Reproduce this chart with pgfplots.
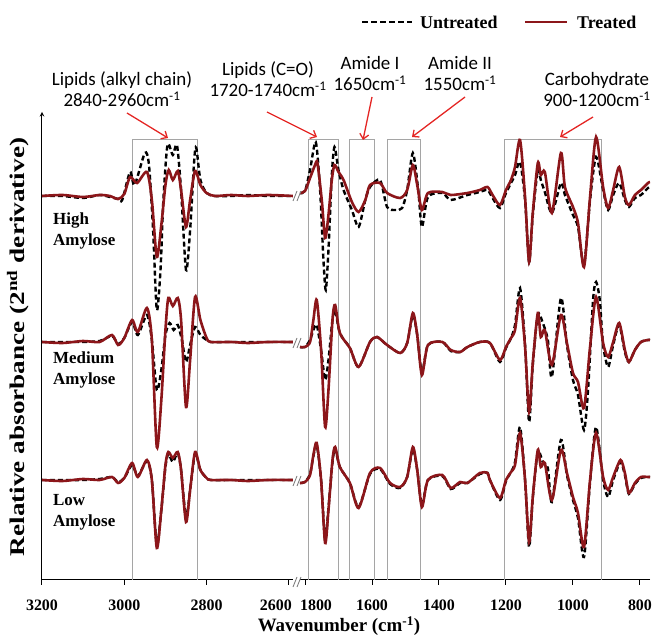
\documentclass[border=0pt]{standalone}
\usepackage{fontspec}
\setmainfont{Liberation Serif}
\newfontfamily\calib{Carlito}
\usepackage{pgfplots}
\pgfplotsset{compat=1.18}
\usetikzlibrary{arrows.meta}
\definecolor{treated}{RGB}{140,22,26}
\definecolor{boxgray}{RGB}{165,165,165}
\definecolor{arrowred}{RGB}{228,38,36}

\pgfplotsset{
  spec/.style={scale only axis, height=468bp, ymin=0, ymax=468, x dir=reverse,
    axis x line=bottom, axis line style={-, line width=1bp}, ytick=\empty,
    tick align=outside, major tick length=5bp, tick style={black, line width=1bp},
    xticklabel style={font=\fontsize{16}{16}\selectfont\bfseries, yshift=-11bp},
    /pgf/number format/1000 sep={}, /pgf/number format/assume math mode=true},
  untr/.style={black, line width=2.4bp, dash pattern=on 5bp off 3bp, smooth, tension=0.45, no markers},
  trt/.style={treated, line width=2.6bp, smooth, tension=0.45, no markers},
}

\begin{document}
\begin{tikzpicture}
\useasboundingbox (0,0) rectangle (654bp,639bp);

% left panel: C-H stretching region
\begin{axis}[spec, at={(42bp,59bp)}, anchor=south west, width=251bp,
  xmin=2590, xmax=3200, axis y line=left,
  xtick={2800,3000,3200}, extra x ticks={2600},
  extra x tick style={xticklabel style={xshift=-13bp}}]
\draw[boxgray, line width=0.9bp] (axis cs:2981,0) |- (axis cs:2823,441) -- (axis cs:2823,0);
% high amylose
\addplot[untr] coordinates {(3200,384)(3150,384)(3100,382)(3060,385)(3035,383)(3015,381)(3005,380)(2986,408)(2975,395)(2950,427)(2940,415)(2930,350)(2921,270)(2912,310)(2905,380)(2895,435)(2882,425)(2872,435)(2862,390)(2850,310)(2840,350)(2830,420)(2825,432)(2815,400)(2800,387)(2780,384)(2740,384)(2700,385)(2650,384)(2590,384)};
\addplot[trt] coordinates {(3200,384)(3150,385)(3100,383)(3060,385)(3035,384)(3015,381)(3000,386)(2986,403)(2969,397)(2945,408)(2933,380)(2921,323)(2910,355)(2900,395)(2892,410)(2882,400)(2870,409)(2862,390)(2850,353)(2840,380)(2828,409)(2815,395)(2800,387)(2780,384)(2740,385)(2700,384)(2650,385)(2590,384)};
% medium amylose
\addplot[untr] coordinates {(3200,238)(3150,238)(3100,238)(3060,239)(3030,244)(3015,236)(3000,242)(2981,258)(2967,245)(2945,265)(2933,240)(2921,190)(2910,210)(2900,245)(2890,257)(2880,250)(2870,255)(2860,240)(2850,218)(2840,235)(2828,253)(2815,245)(2800,240)(2790,238)(2740,238)(2700,238)(2650,238)(2590,238)};
\addplot[trt] coordinates {(3200,238)(3150,237)(3100,239)(3060,238)(3030,245)(3015,235)(3000,242)(2981,260)(2967,248)(2945,272)(2933,240)(2921,133)(2910,180)(2900,250)(2893,282)(2882,274)(2870,282)(2862,260)(2850,173)(2840,220)(2828,283)(2815,260)(2800,242)(2790,238)(2740,238)(2700,237)(2650,238)(2590,238)};
% low amylose
\addplot[untr] coordinates {(3200,100)(3150,100)(3100,100)(3060,101)(3030,103)(3015,98)(3000,102)(2981,115)(2967,104)(2945,119)(2933,100)(2921,35)(2910,70)(2900,113)(2893,126)(2882,118)(2870,127)(2862,110)(2850,62)(2840,90)(2828,126)(2815,110)(2800,102)(2790,100)(2740,100)(2700,100)(2650,100)(2590,100)};
\addplot[trt] coordinates {(3200,100)(3150,99)(3100,101)(3060,100)(3030,103)(3015,97)(3000,102)(2981,117)(2967,103)(2945,120)(2933,100)(2921,32)(2910,70)(2900,115)(2893,128)(2882,122)(2870,128)(2862,110)(2850,58)(2840,90)(2828,128)(2815,110)(2800,102)(2790,100)(2740,100)(2700,99)(2650,100)(2590,100)};
\end{axis}

% right panel: fingerprint region
\begin{axis}[spec, at={(300bp,59bp)}, anchor=south west, width=350bp,
  xmin=770, xmax=1815, axis y line=none,
  xtick={800,1000,1200,1400,1600}, extra x ticks={1800},
  extra x tick style={xticklabel style={xshift=11bp}}]
\draw[boxgray, line width=0.9bp] (axis cs:1791,0) |- (axis cs:1701,441) -- (axis cs:1701,0);
\draw[boxgray, line width=0.9bp] (axis cs:1666,0) |- (axis cs:1594,441) -- (axis cs:1594,0);
\draw[boxgray, line width=0.9bp] (axis cs:1555,0) |- (axis cs:1454,441) -- (axis cs:1454,0);
\draw[boxgray, line width=0.9bp] (axis cs:1206,0) |- (axis cs:916,441) -- (axis cs:916,0);
% high amylose
\addplot[untr] coordinates {(1815,387)(1800,389)(1785,410)(1768,438)(1755,390)(1745,320)(1738,290)(1730,330)(1720,405)(1712,433)(1700,410)(1685,390)(1660,370)(1640,353)(1620,380)(1606,393)(1576,400)(1555,373)(1530,370)(1510,372)(1495,390)(1478,427)(1462,390)(1451,353)(1433,383)(1390,387)(1365,380)(1315,385)(1278,388)(1255,390)(1240,382)(1218,372)(1200,387)(1185,397)(1173,405)(1158,418)(1143,380)(1131,318)(1120,365)(1105,410)(1096,400)(1084,388)(1063,367)(1036,397)(1024,385)(1000,365)(985,353)(967,315)(949,380)(931,423)(910,390)(895,370)(880,385)(862,397)(845,380)(833,373)(815,382)(797,385)(776,392)(770,393)};
\addplot[trt] coordinates {(1815,387)(1800,389)(1785,402)(1770,415)(1763,417)(1750,380)(1740,342)(1730,365)(1720,400)(1712,415)(1700,408)(1685,400)(1660,378)(1640,368)(1620,380)(1606,395)(1576,397)(1555,387)(1516,382)(1495,390)(1478,415)(1465,395)(1451,370)(1433,387)(1390,388)(1365,385)(1315,387)(1278,390)(1255,393)(1240,385)(1218,375)(1200,390)(1185,400)(1173,413)(1158,440)(1143,383)(1131,318)(1120,367)(1105,417)(1096,405)(1084,408)(1063,367)(1036,427)(1024,393)(1000,373)(985,357)(967,313)(949,383)(931,443)(910,393)(895,372)(880,390)(862,413)(845,383)(833,375)(815,385)(797,390)(776,397)(770,398)};
% medium amylose
\addplot[untr] coordinates {(1815,233)(1800,233)(1785,240)(1775,250)(1765,255)(1752,230)(1740,200)(1730,220)(1718,260)(1710,270)(1696,247)(1666,232)(1640,213)(1606,238)(1585,243)(1555,235)(1516,227)(1495,237)(1478,265)(1465,245)(1451,207)(1433,235)(1390,238)(1365,229)(1337,228)(1315,233)(1278,238)(1248,237)(1218,218)(1200,232)(1185,242)(1173,255)(1158,292)(1143,235)(1131,158)(1120,215)(1105,265)(1090,257)(1075,240)(1063,203)(1036,282)(1018,235)(1000,200)(985,185)(967,150)(955,190)(940,280)(931,298)(920,280)(910,235)(895,213)(880,235)(862,255)(845,228)(833,218)(815,230)(797,238)(776,240)(770,240)};
\addplot[trt] coordinates {(1815,233)(1800,233)(1785,238)(1775,260)(1765,280)(1752,230)(1740,153)(1730,190)(1718,260)(1710,275)(1696,247)(1666,232)(1640,213)(1606,238)(1585,243)(1555,235)(1516,227)(1495,237)(1478,267)(1465,245)(1451,205)(1433,235)(1390,238)(1365,230)(1337,228)(1315,233)(1278,238)(1248,237)(1218,220)(1200,233)(1185,242)(1173,250)(1158,282)(1143,233)(1131,168)(1120,217)(1105,267)(1096,243)(1084,250)(1063,215)(1036,265)(1018,237)(1000,207)(985,198)(967,172)(949,233)(931,283)(910,237)(895,223)(880,238)(862,257)(845,230)(833,218)(815,230)(797,238)(776,240)(770,240)};
% low amylose
\addplot[untr] coordinates {(1815,97)(1800,98)(1785,106)(1775,124)(1765,135)(1752,100)(1740,40)(1730,72)(1718,118)(1710,131)(1696,113)(1666,97)(1640,73)(1606,106)(1576,111)(1546,96)(1516,92)(1495,103)(1478,131)(1465,110)(1451,75)(1433,100)(1390,104)(1365,91)(1337,97)(1315,97)(1278,106)(1255,107)(1248,100)(1218,80)(1200,99)(1185,108)(1173,118)(1158,153)(1143,100)(1131,33)(1120,82)(1105,128)(1090,118)(1075,112)(1063,78)(1036,140)(1018,105)(1000,80)(985,62)(967,23)(949,98)(931,153)(910,100)(895,83)(880,100)(858,118)(845,105)(833,86)(815,96)(797,102)(776,103)(770,103)};
\addplot[trt] coordinates {(1815,97)(1800,98)(1785,105)(1775,125)(1765,137)(1752,100)(1740,37)(1730,70)(1718,120)(1710,133)(1696,113)(1666,97)(1640,72)(1606,107)(1576,112)(1546,97)(1516,93)(1495,103)(1478,133)(1465,110)(1451,73)(1433,100)(1390,105)(1365,92)(1337,98)(1315,97)(1278,107)(1255,107)(1248,100)(1218,82)(1200,100)(1185,108)(1173,115)(1158,147)(1143,100)(1131,38)(1120,83)(1105,130)(1096,113)(1084,117)(1063,80)(1036,130)(1018,107)(1000,83)(985,67)(967,33)(949,100)(931,147)(910,103)(895,90)(880,103)(858,120)(845,107)(833,87)(815,97)(797,103)(776,103)(770,103)};
\end{axis}

\begin{scope}[x=1bp, y=1bp]
% axis break marks
\foreach \yy in {443,296,158,57} {
  \draw[gray, line width=0.9bp] (293,\yy-5) -- (297,\yy+5) (297,\yy-5) -- (301,\yy+5);
}
% axis titles
\node[rotate=90, xscale=1.3, font=\fontsize{21}{21}\selectfont\bfseries] at (18,292) {Relative absorbance (2\textsuperscript{nd} derivative)};
\node[font=\fontsize{19}{19}\selectfont\bfseries] at (339,13) {Wavenumber (cm\textsuperscript{-1})};
% sample labels
\node[anchor=west, align=left, inner sep=0, font=\fontsize{17}{21}\selectfont\bfseries] at (53,408) {High\\Amylose};
\node[anchor=west, align=left, inner sep=0, font=\fontsize{17}{21}\selectfont\bfseries] at (53,269.5) {Medium\\Amylose};
\node[anchor=west, align=left, inner sep=0, font=\fontsize{17}{21}\selectfont\bfseries] at (53,126.5) {Low\\Amylose};
% legend
\draw[black, line width=2.4bp, dash pattern=on 6bp off 3bp] (362,617) -- (412,617);
\node[anchor=west, inner sep=0, font=\fontsize{18}{18}\selectfont\bfseries] at (420,617) {Untreated};
\draw[treated, line width=2.6bp] (525,617) -- (567,617);
\node[anchor=west, inner sep=0, font=\fontsize{18}{18}\selectfont\bfseries] at (577,617) {Treated};
% band annotations
\node[align=center, inner sep=1bp, font=\calib\fontsize{19}{21}\selectfont] at (122,549.5) {Lipids (alkyl chain)\\2840-2960cm\textsuperscript{-1}};
\node[align=center, inner sep=1bp, font=\calib\fontsize{19}{21}\selectfont] at (268,559.5) {Lipids (C=O)\\1720-1740cm\textsuperscript{-1}};
\node[align=center, inner sep=1bp, font=\calib\fontsize{19}{21}\selectfont] at (370,565.5) {Amide I\\1650cm\textsuperscript{-1}};
\node[align=center, inner sep=1bp, font=\calib\fontsize{19}{21}\selectfont] at (460,565.5) {Amide II\\1550cm\textsuperscript{-1}};
\node[align=center, inner sep=1bp, font=\calib\fontsize{19}{21}\selectfont] at (597,549.5) {Carbohydrate\\900-1200cm\textsuperscript{-1}};
\begin{scope}[arrowred, line width=1.3bp, -{Straight Barb[length=5bp,width=9bp]}]
\draw (127,526) -- (168,501);
\draw (267,527) -- (317,502);
\draw (372,542) -- (363,499);
\draw (465,542) -- (412,502);
\draw (593,522) -- (560,502);
\end{scope}
\end{scope}
\end{tikzpicture}
\end{document}
